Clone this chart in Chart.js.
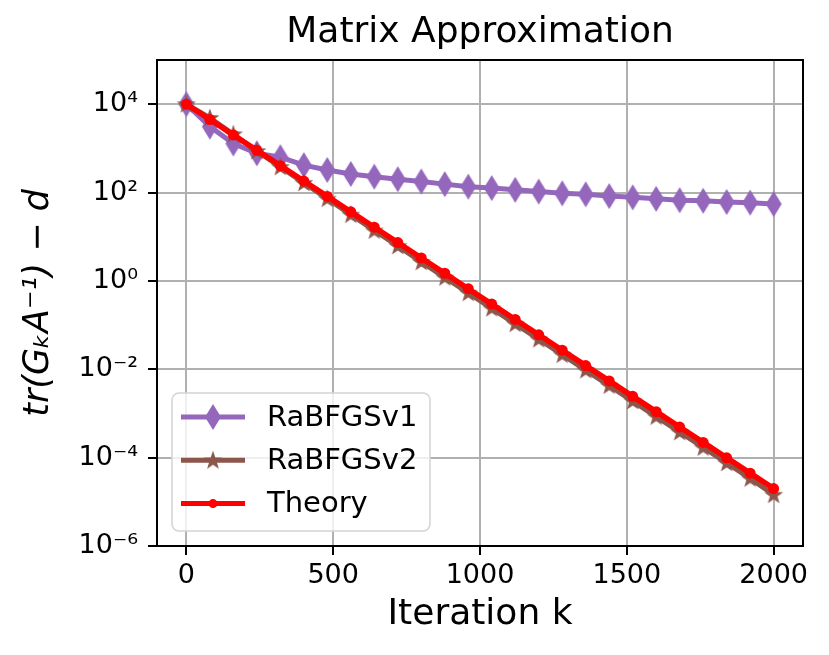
<!DOCTYPE html>
<html>
<head>
<meta charset="utf-8">
<script src="https://cdn.jsdelivr.net/npm/chart.js@4.4.1/dist/chart.umd.min.js"></script>
<style>
  html, body { margin: 0; padding: 0; background: #fff; }
  canvas { display: block; }
</style>
</head>
<body>
<canvas id="chart" width="829" height="655"></canvas>
<script>
// iterations k (every 80 steps)
const iterations = [0, 80, 160, 240, 320, 400, 480, 560, 640, 720, 800, 880, 960,
  1040, 1120, 1200, 1280, 1360, 1440, 1520, 1600, 1680, 1760, 1840, 1920, 2000];

const rabfgsV1 = [10000, 3100, 1290, 775, 630, 417, 324, 263, 229, 200, 178, 155, 136,
  126, 115, 105, 96, 91, 83, 78, 72, 67, 65, 61, 59, 55];

const rabfgsV2 = [10000, 4898, 2089, 871, 380, 166, 72.4, 31.6, 13.8, 6.17, 2.69, 1.20, 0.537,
  0.240, 0.107, 0.0479, 0.0214, 0.00955, 0.00427, 0.00191, 8.51e-4, 3.80e-4, 1.70e-4,
  7.59e-5, 3.39e-5, 1.45e-5];

const theory = [10000, 4487, 2014, 904, 406, 182, 81.7, 36.6, 16.4, 7.38, 3.31, 1.49, 0.667,
  0.299, 0.134, 0.0603, 0.0270, 0.0121, 0.00545, 0.00244, 0.00110, 4.92e-4, 2.21e-4,
  9.91e-5, 4.45e-5, 2.0e-5];

const xTicks = [0, 500, 1000, 1500, 2000];
const yTicks = [1e-6, 1e-4, 1e-2, 1, 1e2, 1e4];
const yTickLabels = ['10\u207B\u2076', '10\u207B\u2074', '10\u207B\u00B2', '10\u2070', '10\u00B2', '10\u2074'];

const FONT = "'DejaVu Sans', 'Noto Sans', sans-serif";

// matplotlib-like markers drawn on small canvases
function makeMarker(kind, color) {
  const c = document.createElement('canvas');
  if (kind === 'thinDiamond') {
    c.width = 18; c.height = 28;
    const ctx = c.getContext('2d');
    ctx.fillStyle = color;
    ctx.beginPath();
    ctx.moveTo(9, 1); ctx.lineTo(17, 14); ctx.lineTo(9, 27); ctx.lineTo(1, 14);
    ctx.closePath();
    ctx.fill();
  } else {
    c.width = 22; c.height = 22;
    const ctx = c.getContext('2d');
    ctx.fillStyle = color;
    ctx.beginPath();
    for (let i = 0; i < 10; i++) {
      const r = i % 2 === 0 ? 10 : 4;
      const a = -Math.PI / 2 + i * Math.PI / 5;
      const px = 11 + r * Math.cos(a), py = 11.5 + r * Math.sin(a);
      if (i === 0) ctx.moveTo(px, py); else ctx.lineTo(px, py);
    }
    ctx.closePath();
    ctx.fill();
  }
  return c;
}

const purple = '#9467bd';
const brown = '#8c564b';
const red = '#ff0000';

const diamond = makeMarker('thinDiamond', purple);
const star = makeMarker('star', brown);

const toPoints = (ys) => iterations.map((x, i) => ({ x, y: ys[i] }));

const datasets = [
  {
    label: 'RaBFGSv1', data: toPoints(rabfgsV1), order: 3,
    borderColor: purple, backgroundColor: purple, borderWidth: 5,
    pointStyle: diamond, pointRadius: 10, marker: diamond,
  },
  {
    label: 'RaBFGSv2', data: toPoints(rabfgsV2), order: 2,
    borderColor: brown, backgroundColor: brown, borderWidth: 5,
    pointStyle: star, pointRadius: 10, marker: star,
  },
  {
    label: 'Theory', data: toPoints(theory), order: 1,
    borderColor: red, backgroundColor: red, borderWidth: 5.5,
    pointStyle: 'circle', pointRadius: 5.5, pointBorderWidth: 0, marker: 'circle',
  },
];

// top/right spines + legend box in lower left of the plot
const frameAndLegend = {
  id: 'frameAndLegend',
  afterDraw(chart) {
    const { ctx, chartArea: a } = chart;
    ctx.save();
    ctx.strokeStyle = '#000';
    ctx.lineWidth = 2;
    ctx.strokeRect(a.left, a.top, a.right - a.left, a.bottom - a.top);

    const bx = a.left + 15, by = a.bottom - 153, bw = 258, bh = 138;
    ctx.beginPath();
    ctx.roundRect(bx, by, bw, bh, 7);
    ctx.fillStyle = 'rgba(255,255,255,0.8)';
    ctx.fill();
    ctx.strokeStyle = '#d4d4d4';
    ctx.lineWidth = 1.5;
    ctx.stroke();

    ctx.font = '29px ' + FONT;
    ctx.textBaseline = 'middle';
    ctx.textAlign = 'left';
    chart.data.datasets.forEach((ds, i) => {
      const y = by + 24 + i * 43.3;
      ctx.strokeStyle = ds.borderColor;
      ctx.lineWidth = 5;
      ctx.beginPath();
      ctx.moveTo(bx + 9, y);
      ctx.lineTo(bx + 73, y);
      ctx.stroke();
      if (ds.marker === 'circle') {
        ctx.fillStyle = ds.borderColor;
        ctx.beginPath();
        ctx.arc(bx + 41, y, 4.5, 0, Math.PI * 2);
        ctx.fill();
      } else {
        ctx.drawImage(ds.marker, bx + 41 - ds.marker.width / 2, y - ds.marker.height / 2);
      }
      ctx.fillStyle = '#000';
      ctx.fillText(ds.label, bx + 95, y + 1);
    });
    ctx.restore();
  },
};

new Chart(document.getElementById('chart'), {
  type: 'line',
  data: { datasets },
  options: {
    responsive: false,
    animation: false,
    events: [],
    layout: { padding: { left: 0, right: 26, top: 0, bottom: 0 } },
    elements: { line: { tension: 0 } },
    scales: {
      x: {
        type: 'linear',
        min: -100,
        max: 2100,
        afterBuildTicks: (s) => { s.ticks = xTicks.map((v) => ({ value: v })); },
        afterFit: (s) => { s.height = 109; s.paddingLeft = 0; s.paddingRight = 0; },
        ticks: {
          autoSkip: false, maxRotation: 0, padding: 5, color: '#000',
          font: { family: FONT, size: 27 },
          callback: (v) => String(v),
        },
        grid: { color: '#b0b0b0', lineWidth: 2, tickColor: '#000', tickLength: 9, tickWidth: 2 },
        border: { color: '#000', width: 2 },
        title: {
          display: true, text: 'Iteration k', color: '#000',
          font: { family: FONT, size: 36, lineHeight: 1 },
          padding: { top: 0, bottom: 22 },
        },
      },
      y: {
        type: 'logarithmic',
        min: 1e-6,
        max: 1e5,
        afterBuildTicks: (s) => { s.ticks = yTicks.map((v) => ({ value: v })); },
        afterFit: (s) => { s.width = 157; s.paddingTop = 0; s.paddingBottom = 0; },
        ticks: {
          autoSkip: false, padding: 10, color: '#000',
          font: { family: FONT, size: 27 },
          callback: (v, i) => yTickLabels[i],
        },
        grid: { color: '#b0b0b0', lineWidth: 2, tickColor: '#000', tickLength: 9, tickWidth: 2 },
        border: { color: '#000', width: 2 },
        title: {
          display: true, text: 'tr(G\u2096A\u207B\u00B9) \u2212 d', color: '#000',
          font: { family: FONT, size: 35, style: 'italic', lineHeight: 1 },
          padding: { top: 21, bottom: 0 },
        },
      },
    },
    plugins: {
      legend: { display: false },
      tooltip: { enabled: false },
      title: {
        display: true,
        fullSize: false,
        text: 'Matrix Approximation',
        color: '#000',
        font: { family: FONT, size: 36, weight: 'normal', lineHeight: 1 },
        padding: { top: 15, bottom: 9 },
      },
    },
  },
  plugins: [frameAndLegend],
});
</script>
</body>
</html>
